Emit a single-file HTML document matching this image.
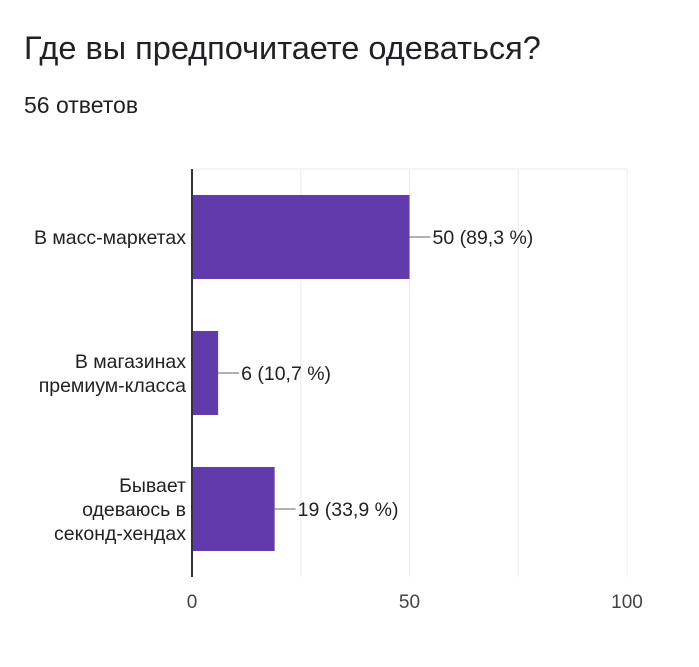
<!DOCTYPE html>
<html><head><meta charset="utf-8"><style>
body{margin:0;width:699px;height:667px;background:#fff;font-family:"Liberation Sans",sans-serif;overflow:hidden}
</style></head><body>
<div style="position:absolute;left:24px;top:30px;font-size:32.5px;color:#202124">Где вы предпочитаете одеваться?</div>
<div style="position:absolute;left:24px;top:92px;font-size:23px;color:#202124">56 ответов</div>
<svg id="c" width="699" height="667" style="position:absolute;left:0;top:0"></svg>
<script>
const categories=[["В масс-маркетах"],["В магазинах","премиум-класса"],["Бывает","одеваюсь в","секонд-хендах"]];
const values=[50,6,19];
const labels=["50 (89,3 %)","6 (10,7 %)","19 (33,9 %)"];
const ticks=[0,25,50,75,100];
const tickLabels=["0","","50","","100"];
const svg=document.getElementById('c');const NS="http://www.w3.org/2000/svg";
const x0=192,x1=627,yTop=169,yBot=577;
const xs=v=>x0+(v/100)*(x1-x0);
const band=(yBot-yTop)/categories.length;
function mk(t,a){const e=document.createElementNS(NS,t);for(const k in a)e.setAttribute(k,a[k]);svg.appendChild(e);return e;}
ticks.forEach((t,i)=>{
 const g=mk('line',{x1:xs(t),x2:xs(t),y1:yTop,y2:yBot,stroke:'#ebebeb','stroke-width':1});
 
 
 if(tickLabels[i]){const tx=mk('text',{x:xs(t),y:yBot+31,'text-anchor':'middle','font-size':19,fill:'#444','font-family':'Liberation Sans'});tx.textContent=tickLabels[i];
 
 }
});
mk('line',{x1:x0+1,x2:x1,y1:yTop,y2:yTop,stroke:'#ebebeb'});
values.forEach((v,i)=>{
 const cy=yTop+band*(i+0.5);const h=84;
 const r=mk('rect',{x:x0,y:cy-h/2,width:xs(v)-x0,height:h,fill:'#613bab'});
 
 
 const l=mk('line',{x1:xs(v),x2:xs(v)+21,y1:cy,y2:cy,stroke:'#999','stroke-width':1.5});
 
 
 const t=mk('text',{x:xs(v)+23,y:cy+7,'font-size':19.5,fill:'#222','font-family':'Liberation Sans'});t.textContent=labels[i];
 
 
 const lines=categories[i];
 lines.forEach((s,j)=>{const c=mk('text',{x:x0-6,y:cy+7+(j-(lines.length-1)/2)*24,'text-anchor':'end','font-size':19.5,fill:'#222','font-family':'Liberation Sans'});c.textContent=s;
 
 });
});
const ax=mk('line',{x1:x0,x2:x0,y1:yTop,y2:yBot,stroke:'#333','stroke-width':2});


</script>
</body></html>
